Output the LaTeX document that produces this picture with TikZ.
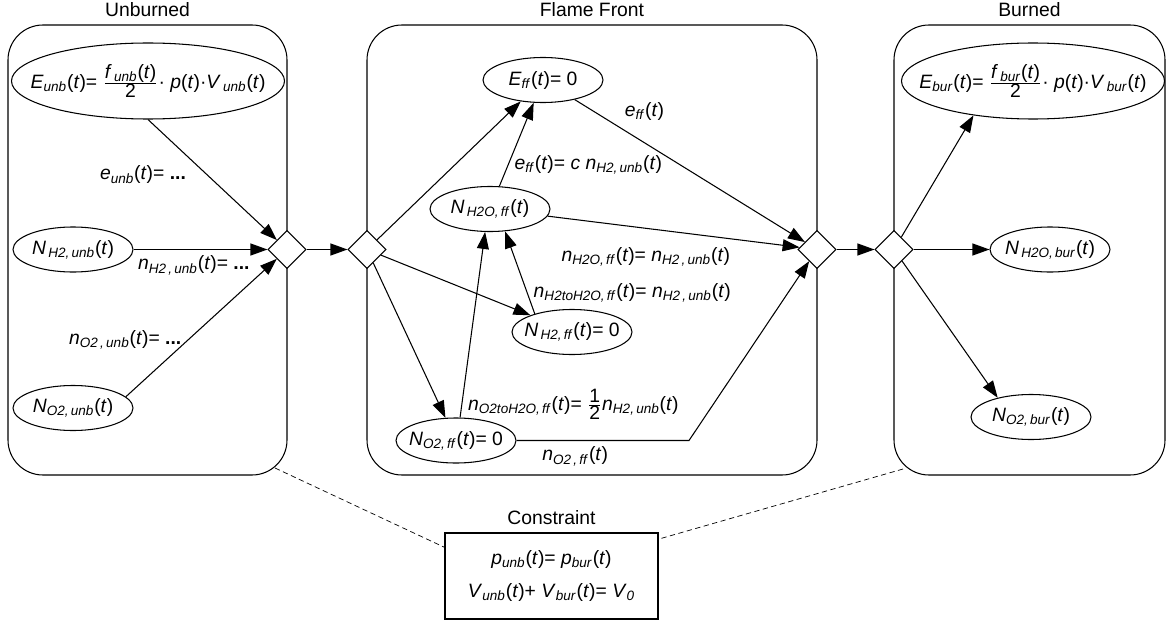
\documentclass[tikz,border=0pt]{standalone}
\usepackage{fontspec}
\setmainfont{Liberation Sans}
\usetikzlibrary{shapes.geometric,arrows.meta,positioning}

\newcommand{\vr}[2]{\textit{#1}\textsubscript{\textit{#2}}}
\newcommand{\ofT}{(\textit{t})}

\tikzset{
 region/.style={draw, rounded corners=0.7cm, minimum width=#1, minimum height=9cm},
 junction/.style={diamond, draw, fill=white, aspect=1, inner sep=0pt,
   minimum width=0.76cm, minimum height=0.76cm},
 state/.style={ellipse, draw, inner xsep=-0.15cm, inner ysep=0pt,
   minimum width=2.4cm, minimum height=0.9cm},
 energy/.style={ellipse, draw, inner xsep=-0.55cm, inner ysep=0pt,
   minimum width=5.4cm, minimum height=1.52cm}
}

\begin{document}
\begin{tikzpicture}[>={Triangle[length=3.4mm,width=2.4mm]}, line width=0.6pt,
  font=\fontsize{11}{13}\selectfont]
 \useasboundingbox (0,0) rectangle (23.36,12.46);

 \node (unb) [region=5.58cm] at (2.95,7.46)  {};
 \node (ff)  [region=9cm]    at (11.84,7.46) {};
 \node (bur) [region=5.42cm] at (20.59,7.46) {};
 \node (unbtitle) [above=0.02cm of unb] {Unburned};
 \node (fftitle)  [above=0.02cm of ff]  {Flame Front};
 \node (burtitle) [above=0.02cm of bur] {Burned};

 \node (d1) [junction] at (5.74,7.47)  {};
 \node (d2) [junction] at (7.34,7.47)  {};
 \node (d3) [junction] at (16.34,7.47) {};
 \node (d4) [junction] at (17.88,7.47) {};

 % unburned
 \node (Eunb)   [energy, minimum width=5.46cm] at (2.96,10.84)
   {\vr{E}{unb}\ofT= $\frac{\mbox{\vr{f}{\,unb}\ofT}}{\mbox{2}}$\textperiodcentered\ \textit{p}\ofT\textperiodcentered\vr{V}{\,unb}\ofT};
 \node (NH2unb) [state] at (1.46,7.47) {\vr{N}{\,H2,\,unb}\ofT};
 \node (NO2unb) [state] at (1.46,4.30) {\vr{N}{O2,\,unb}\ofT};

 % flame front
 \node (Eff)    [state] at (10.86,10.86) {\vr{E}{ff}\ofT= 0};
 \node (NH2Off) [state] at (9.80,8.28)   {\vr{N}{\,H2O,\,ff}\ofT};
 \node (NH2ff)  [state] at (11.44,5.82)  {\vr{N}{\,H2,\,ff}\ofT= 0};
 \node (NO2ff)  [state] at (9.12,3.65)   {\vr{N}{O2,\,ff}\ofT= 0};

 % burned
 \node (Ebur)    [energy, minimum width=5.26cm] at (20.66,10.84)
   {\vr{E}{bur}\ofT= $\frac{\mbox{\vr{f}{\,bur}\ofT}}{\mbox{2}}$\textperiodcentered\ \textit{p}\ofT\textperiodcentered\vr{V}{\,bur}\ofT};
 \node (NH2Obur) [state] at (21.0,7.47)  {\vr{N}{\,H2O,\,bur}\ofT};
 \node (NO2bur)  [state] at (20.62,4.12) {\vr{N}{O2,\,bur}\ofT};

 \draw [->] (Eunb.south) -- node [pos=0.46, left=0.3cm] {\vr{e}{unb}\ofT= \textbf{...}} (d1);
 \draw [->] (NH2unb) -- node [pos=0.45, below] {\vr{n}{H2\,,\,unb}\ofT= \textbf{...}} (d1);
 \draw [->] (NO2unb.12) -- node [pos=0.41, left] {\vr{n}{O2\,,\,unb}\ofT= \textbf{...}} (d1);
 \draw [->] (d1) -- (d2);

 \draw [->] (d2) -- (Eff);
 \draw [->] (d2) -- (NH2ff);
 \draw [->] (d2) -- (NO2ff);

 \draw [->] (NH2Off) -- node [pos=0.26, right] {\vr{e}{ff}\ofT= \textit{c} \vr{n}{H2,\,unb}\ofT} (Eff);
 \draw [->] (NH2ff.154) -- node [pos=0.25, right]
   {\vr{n}{H2toH2O,\,ff}\ofT= \vr{n}{H2\,,\,unb}\ofT} (NH2Off.-56);
 \draw [->] (NO2ff.80) -- node [pos=0.07, right]
   {\vr{n}{O2toH2O,\,ff}\ofT= $\frac{\mbox{1}}{\mbox{2}}$\vr{n}{H2,\,unb}\ofT} (NH2Off.-102);

 \draw [->] (Eff) -- node [pos=0.19, above right] {\vr{e}{ff}\ofT} (d3);
 \draw [->] (NH2Off) -- node [pos=0.39, below=0.25cm]
   {\vr{n}{H2O,\,ff}\ofT= \vr{n}{H2\,,\,unb}\ofT} (d3);
 \coordinate (nbend) at (13.78,3.65);
 \draw [->] (NO2ff.east) -- node [pos=0.34, below] {\vr{n}{O2\,,\,ff}\ofT} (nbend) -- (d3);
 \draw [->] (d3) -- (d4);

 \draw [->] (d4) -- (Ebur.210);
 \draw [->] (d4) -- (NH2Obur);
 \draw [->] (d4) -- (NO2bur.150);

 % constraint
 \node (cons) [draw, minimum width=4.26cm, minimum height=1.72cm, align=center] at (11.03,0.94)
   {\vr{p}{unb}\ofT= \vr{p}{bur}\ofT\\[6pt] \vr{V}{unb}\ofT+ \vr{V}{bur}\ofT= \vr{V}{0}};
 \node (constitle) [above=0.02cm of cons] {Constraint};
 \coordinate (unbcorner) at (5.5,3.1);
 \coordinate (burcorner) at (18.06,3.08);
 \draw [densely dashed, thin] (unbcorner) -- (cons.165);
 \draw [densely dashed, thin] (burcorner) -- (cons.19);

\end{tikzpicture}
\end{document}
